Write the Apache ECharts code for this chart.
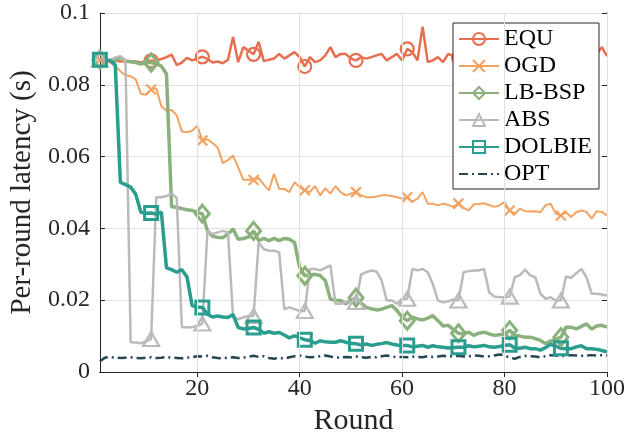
<!DOCTYPE html>
<html>
<head>
<meta charset="utf-8">
<script src="https://cdn.jsdelivr.net/npm/echarts@6/dist/echarts.min.js"></script>
<style>
  html, body { margin: 0; padding: 0; background: #fff; }
  #chart { width: 628px; height: 443px; }
</style>
</head>
<body>
<div id="chart"></div>
<script>
var names = ["EQU", "OGD", "LB-BSP", "ABS", "DOLBIE", "OPT"];
var colors = ["#E76F51", "#F4A261", "#8AB17D", "#BABABA", "#2A9D8F", "#264653"];
var xTicks = [20, 40, 60, 80, 100];

var equ = [0.0870, 0.0868, 0.0866, 0.0867, 0.0865, 0.0866, 0.0864, 0.0865, 0.0862, 0.0866,
  0.0867, 0.0868, 0.0872, 0.0877, 0.0884, 0.0855, 0.0862, 0.0875, 0.0868, 0.0873,
  0.0878, 0.0872, 0.0862, 0.0865, 0.0860, 0.0870, 0.0933, 0.0863, 0.0905, 0.0895,
  0.0885, 0.0920, 0.0866, 0.0870, 0.0873, 0.0886, 0.0873, 0.0882, 0.0891, 0.0877,
  0.0851, 0.0877, 0.0863, 0.0868, 0.0882, 0.0905, 0.0877, 0.0886, 0.0886, 0.0873,
  0.0868, 0.0877, 0.0873, 0.0877, 0.0882, 0.0886, 0.0868, 0.0877, 0.0886, 0.0868,
  0.0900, 0.0891, 0.0868, 0.0962, 0.0863, 0.0868, 0.0877, 0.0863, 0.0886, 0.0880,
  0.0876, 0.0882, 0.0869, 0.0890, 0.0873, 0.0866, 0.0885, 0.0878, 0.0870, 0.0894,
  0.0875, 0.0868, 0.0880, 0.0871, 0.0888, 0.0866, 0.0876, 0.0884, 0.0869, 0.0879,
  0.0872, 0.0890, 0.0867, 0.0881, 0.0874, 0.0886, 0.0870, 0.0885, 0.0905, 0.0880];

var ogd = [0.0870, 0.0868, 0.0862, 0.0852, 0.0838, 0.0826, 0.0824, 0.0815, 0.0775, 0.0772,
  0.0787, 0.0790, 0.0740, 0.0728, 0.0730, 0.0715, 0.0670, 0.0668, 0.0672, 0.0686,
  0.0645, 0.0648, 0.0638, 0.0625, 0.0582, 0.0590, 0.0603, 0.0570, 0.0535, 0.0536,
  0.0535, 0.0540, 0.0522, 0.0506, 0.0552, 0.0510, 0.0510, 0.0501, 0.0529, 0.0515,
  0.0506, 0.0501, 0.0518, 0.0492, 0.0512, 0.0497, 0.0518, 0.0501, 0.0492, 0.0497,
  0.0501, 0.0492, 0.0487, 0.0487, 0.0489, 0.0492, 0.0492, 0.0490, 0.0487, 0.0483,
  0.0487, 0.0474, 0.0483, 0.0501, 0.0469, 0.0469, 0.0464, 0.0469, 0.0465, 0.0460,
  0.0469, 0.0457, 0.0450, 0.0467, 0.0468, 0.0470, 0.0465, 0.0460, 0.0464, 0.0473,
  0.0450, 0.0441, 0.0455, 0.0448, 0.0447, 0.0448, 0.0445, 0.0464, 0.0469, 0.0441,
  0.0436, 0.0445, 0.0432, 0.0445, 0.0450, 0.0446, 0.0427, 0.0448, 0.0446, 0.0436];

var lbbsp = [0.0870, 0.0866, 0.0868, 0.0866, 0.0877, 0.0866, 0.0864, 0.0862, 0.0858, 0.0862,
  0.0862, 0.0858, 0.0852, 0.0830, 0.0460, 0.0459, 0.0455, 0.0452, 0.0450, 0.0444,
  0.0441, 0.0393, 0.0378, 0.0375, 0.0374, 0.0385, 0.0398, 0.0370, 0.0372, 0.0376,
  0.0393, 0.0366, 0.0372, 0.0366, 0.0372, 0.0366, 0.0372, 0.0370, 0.0361, 0.0291,
  0.0268, 0.0270, 0.0272, 0.0269, 0.0255, 0.0203, 0.0199, 0.0199, 0.0190, 0.0200,
  0.0207, 0.0192, 0.0180, 0.0176, 0.0173, 0.0175, 0.0180, 0.0185, 0.0171, 0.0153,
  0.0143, 0.0153, 0.0148, 0.0145, 0.0150, 0.0157, 0.0143, 0.0128, 0.0130, 0.0118,
  0.0108, 0.0106, 0.0111, 0.0102, 0.0108, 0.0111, 0.0106, 0.0102, 0.0104, 0.0106,
  0.0116, 0.0102, 0.0100, 0.0097, 0.0097, 0.0093, 0.0088, 0.0079, 0.0086, 0.0090,
  0.0097, 0.0125, 0.0125, 0.0120, 0.0127, 0.0134, 0.0120, 0.0128, 0.0130, 0.0125];

var abs = [0.0870, 0.0866, 0.0868, 0.0876, 0.0880, 0.0865, 0.0083, 0.0082, 0.0080, 0.0085,
  0.0092, 0.0487, 0.0487, 0.0490, 0.0497, 0.0485, 0.0125, 0.0125, 0.0125, 0.0128,
  0.0135, 0.0393, 0.0384, 0.0389, 0.0393, 0.0389, 0.0152, 0.0147, 0.0152, 0.0156,
  0.0156, 0.0361, 0.0342, 0.0338, 0.0338, 0.0333, 0.0175, 0.0180, 0.0175, 0.0170,
  0.0170, 0.0287, 0.0287, 0.0283, 0.0290, 0.0297, 0.0190, 0.0190, 0.0195, 0.0199,
  0.0195, 0.0272, 0.0278, 0.0283, 0.0280, 0.0255, 0.0199, 0.0199, 0.0190, 0.0204,
  0.0204, 0.0287, 0.0283, 0.0287, 0.0278, 0.0245, 0.0199, 0.0194, 0.0197, 0.0202,
  0.0199, 0.0278, 0.0281, 0.0283, 0.0283, 0.0287, 0.0222, 0.0210, 0.0208, 0.0208,
  0.0210, 0.0264, 0.0270, 0.0285, 0.0269, 0.0264, 0.0218, 0.0204, 0.0208, 0.0199,
  0.0199, 0.0266, 0.0262, 0.0275, 0.0287, 0.0264, 0.0218, 0.0218, 0.0216, 0.0213];

var dolbie = [0.0870, 0.0870, 0.0868, 0.0855, 0.0528, 0.0522, 0.0515, 0.0495, 0.0445, 0.0442,
  0.0443, 0.0440, 0.0445, 0.0290, 0.0285, 0.0278, 0.0285, 0.0265, 0.0185, 0.0181,
  0.0180, 0.0161, 0.0153, 0.0156, 0.0153, 0.0152, 0.0160, 0.0124, 0.0120, 0.0121,
  0.0124, 0.0119, 0.0108, 0.0112, 0.0108, 0.0110, 0.0103, 0.0095, 0.0101, 0.0095,
  0.0090, 0.0088, 0.0080, 0.0087, 0.0084, 0.0083, 0.0083, 0.0087, 0.0083, 0.0080,
  0.0079, 0.0075, 0.0078, 0.0074, 0.0077, 0.0079, 0.0082, 0.0078, 0.0075, 0.0074,
  0.0074, 0.0070, 0.0072, 0.0074, 0.0069, 0.0073, 0.0070, 0.0069, 0.0067, 0.0068,
  0.0069, 0.0069, 0.0073, 0.0070, 0.0072, 0.0074, 0.0070, 0.0069, 0.0071, 0.0074,
  0.0076, 0.0067, 0.0066, 0.0069, 0.0065, 0.0065, 0.0061, 0.0068, 0.0077, 0.0072,
  0.0066, 0.0065, 0.0065, 0.0070, 0.0073, 0.0065, 0.0065, 0.0063, 0.0060, 0.0056];

var opt = [0.0030, 0.0040, 0.0042, 0.0040, 0.0039, 0.0040, 0.0041, 0.0039, 0.0038, 0.0040,
  0.0041, 0.0039, 0.0040, 0.0042, 0.0040, 0.0039, 0.0038, 0.0040, 0.0041, 0.0044,
  0.0043, 0.0045, 0.0041, 0.0039, 0.0038, 0.0040, 0.0041, 0.0039, 0.0040, 0.0043,
  0.0045, 0.0042, 0.0044, 0.0039, 0.0037, 0.0040, 0.0037, 0.0041, 0.0044, 0.0046,
  0.0043, 0.0041, 0.0042, 0.0044, 0.0046, 0.0043, 0.0041, 0.0040, 0.0042, 0.0041,
  0.0043, 0.0041, 0.0040, 0.0042, 0.0041, 0.0044, 0.0046, 0.0043, 0.0041, 0.0042,
  0.0041, 0.0043, 0.0042, 0.0041, 0.0044, 0.0042, 0.0043, 0.0045, 0.0043, 0.0044,
  0.0045, 0.0043, 0.0044, 0.0046, 0.0045, 0.0043, 0.0044, 0.0046, 0.0049, 0.0046,
  0.0040, 0.0037, 0.0042, 0.0045, 0.0044, 0.0043, 0.0041, 0.0044, 0.0047, 0.0046,
  0.0044, 0.0045, 0.0047, 0.0046, 0.0045, 0.0046, 0.0047, 0.0046, 0.0047, 0.0046];

var allData = [equ, ogd, lbbsp, abs, dolbie, opt];
var symbols = ["circle", "path://M0,0L10,10M10,0L0,10", "diamond", "triangle", "rect", "path://M0,0L1,1"];
var symbolSizes = [13, 10, [14, 17], [16, 14], 13, 1];
var lineWidths = [2.5, 2, 3.5, 2.5, 3.5, 2.5];
var font = "Liberation Serif";

// markers every 10 rounds, starting at round 1
function buildData(arr, withMarks) {
  return arr.map(function (v, i) {
    var item = { value: [i + 1, v] };
    if (!withMarks || i % 10 !== 0) item.symbol = "none";
    return item;
  });
}

var series = names.map(function (name, k) {
  return {
    name: name,
    type: "line",
    data: buildData(allData[k], k !== 5),
    symbol: symbols[k],
    symbolSize: symbolSizes[k],
    lineStyle: {
      color: colors[k],
      width: lineWidths[k],
      type: k === 5 ? [9, 4, 2, 4] : "solid"
    },
    itemStyle: {
      color: "rgba(0,0,0,0)",
      borderColor: k === 5 ? "rgba(0,0,0,0)" : colors[k],
      borderWidth: k === 2 || k === 4 ? 3 : 2.2
    },
    emphasis: { disabled: true },
    animation: false
  };
});

// vertical grid lines at the x tick values
series.push({
  name: "grid",
  type: "line",
  data: [],
  z: 1,
  silent: true,
  animation: false,
  markLine: {
    silent: true,
    symbol: "none",
    label: { show: false },
    lineStyle: { color: "#E0E0E0", width: 1, type: "solid" },
    data: xTicks.map(function (v) { return { xAxis: v }; })
  }
});

var axisColor = "#262626";

var myChart = echarts.init(document.getElementById("chart"));
myChart.setOption({
  backgroundColor: "#fff",
  textStyle: { fontFamily: font },
  grid: { left: 93, right: 21, top: 13, bottom: 71 },
  legend: {
    data: names,
    orient: "vertical",
    left: 453,
    top: 23,
    itemWidth: 40,
    itemHeight: 15,
    itemGap: 3,
    padding: [4, 7, 3, 5],
    backgroundColor: "#fff",
    borderColor: "#262626",
    borderWidth: 1,
    borderRadius: 0,
    selectedMode: false,
    textStyle: { fontFamily: font, fontSize: 24, color: "#000" }
  },
  xAxis: [
    {
      type: "value",
      min: 1,
      max: 100,
      name: "Round",
      nameLocation: "middle",
      nameGap: 30,
      nameTextStyle: { fontFamily: font, fontSize: 30, color: axisColor },
      axisLine: { show: true, lineStyle: { color: axisColor, width: 1 } },
      axisTick: { show: true, inside: true, length: 5, customValues: xTicks, lineStyle: { color: axisColor } },
      axisLabel: { fontFamily: font, fontSize: 24, color: axisColor, margin: 5, customValues: xTicks },
      splitLine: { show: false }
    },
    {
      type: "value",
      position: "top",
      min: 1,
      max: 100,
      axisLine: { show: true, lineStyle: { color: axisColor, width: 1 } },
      axisTick: { show: true, inside: true, length: 5, customValues: xTicks, lineStyle: { color: axisColor } },
      axisLabel: { show: false },
      splitLine: { show: false }
    }
  ],
  yAxis: [
    {
      type: "value",
      min: 0,
      max: 0.1,
      interval: 0.02,
      name: "Per-round latency (s)",
      nameLocation: "middle",
      nameGap: 57,
      nameTextStyle: { fontFamily: font, fontSize: 29, color: axisColor },
      axisLine: { show: true, lineStyle: { color: axisColor, width: 1 } },
      axisTick: { show: true, inside: true, length: 5, lineStyle: { color: axisColor } },
      axisLabel: { fontFamily: font, fontSize: 24, color: axisColor, margin: 10 },
      splitLine: { show: true, lineStyle: { color: "#E0E0E0", width: 1 } }
    },
    {
      type: "value",
      position: "right",
      min: 0,
      max: 0.1,
      interval: 0.02,
      axisLine: { show: true, lineStyle: { color: axisColor, width: 1 } },
      axisTick: { show: true, inside: true, length: 5, lineStyle: { color: axisColor } },
      axisLabel: { show: false },
      splitLine: { show: false }
    }
  ],
  series: series
});
</script>
</body>
</html>
